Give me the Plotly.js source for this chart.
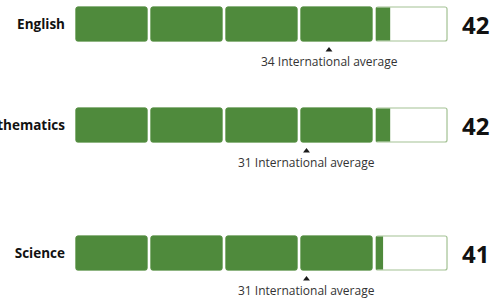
<!DOCTYPE html>
<html><head><meta charset="utf-8">
<script src="https://cdn.plot.ly/plotly-3.0.1.min.js"></script>
<style>html,body{margin:0;padding:0;background:#fff}#c{width:501px;height:298px}</style>
</head><body><div id="c"></div>
<script>
// ---- data ----
const subjects = ['English', 'Mathematics', 'Science'];
const scores = [42, 42, 41];
const averages = [34, 31, 31];
const avgLabel = 'International average';
const blockSize = 10;
const nBlocks = 5;

// ---- layout constants ----
const rowPos = [24, 125, 253];      // row centres (y axis in px units)
const gap = 0.53;                   // gap between blocks, x units
const green = '#4f8a3c';
const outline = '#a3c193';
const font = 'Open Sans, Lato, sans-serif';

const oy = [], ox = [], ob = [];
const fy = [], fx = [], fb = [];   // full blocks
const py = [], px = [], pb = [];   // partial blocks
subjects.forEach((s, si) => {
  for (let i = 0; i < nBlocks; i++) {
    const start = i * blockSize + gap / 2;
    const inner = blockSize - gap;
    oy.push(rowPos[si]); ox.push(inner); ob.push(start);
    const frac = Math.min(Math.max(scores[si] - i * blockSize, 0), blockSize) / blockSize;
    if (frac >= 1) { fy.push(rowPos[si]); fx.push(inner); fb.push(start); }
    else if (frac > 0) { py.push(rowPos[si]); px.push(inner * frac); pb.push(start); }
  }
});

const traces = [
  {type: 'bar', orientation: 'h', y: oy, x: ox, base: ob, width: 34,
   marker: {color: '#ffffff', line: {color: outline, width: 1.2}, cornerradius: 2},
   hoverinfo: 'skip', showlegend: false},
  {type: 'bar', orientation: 'h', y: fy, x: fx, base: fb, width: 34,
   marker: {color: green, line: {color: green, width: 1}, cornerradius: 2},
   hoverinfo: 'skip', showlegend: false},
  {type: 'bar', orientation: 'h', y: py, x: px, base: pb, width: 33,
   marker: {color: green, line: {width: 0}},
   hoverinfo: 'skip', showlegend: false},
  {type: 'scatter', mode: 'markers', x: averages, y: rowPos.map(p => p + 26),
   marker: {symbol: 'triangle-up', size: 6, color: '#1a1a1a'},
   hoverinfo: 'skip', showlegend: false}
];

const annotations = [];
subjects.forEach((s, si) => {
  annotations.push({x: nBlocks * blockSize, y: rowPos[si], xref: 'x', yref: 'y',
    xanchor: 'left', xshift: 11, yanchor: 'middle', showarrow: false,
    text: String(scores[si]), font: {family: font, size: 24, weight: 'bold', color: '#111'}});
  annotations.push({x: averages[si], y: rowPos[si] + 37, xref: 'x', yref: 'y',
    xanchor: 'center', yanchor: 'middle', showarrow: false,
    text: averages[si] + ' ' + avgLabel, font: {family: font, size: 12, color: '#333'}});
});

const layout = {
  width: 501, height: 298,
  margin: {l: 74, r: 52, t: 0, b: 0, pad: 0},
  paper_bgcolor: '#fff', plot_bgcolor: '#fff',
  barmode: 'overlay', showlegend: false,
  xaxis: {range: [0, nBlocks * blockSize], visible: false, fixedrange: true},
  yaxis: {range: [298, 0], tickvals: rowPos, ticktext: subjects, showgrid: false,
    zeroline: false, showline: false, ticks: '', ticklabelstandoff: 8, automargin: false,
    tickfont: {family: font, size: 13.5, weight: 'bold', color: '#111'}},
  annotations: annotations
};

Plotly.newPlot('c', traces, layout, {staticPlot: true, displayModeBar: false});
</script></body></html>
